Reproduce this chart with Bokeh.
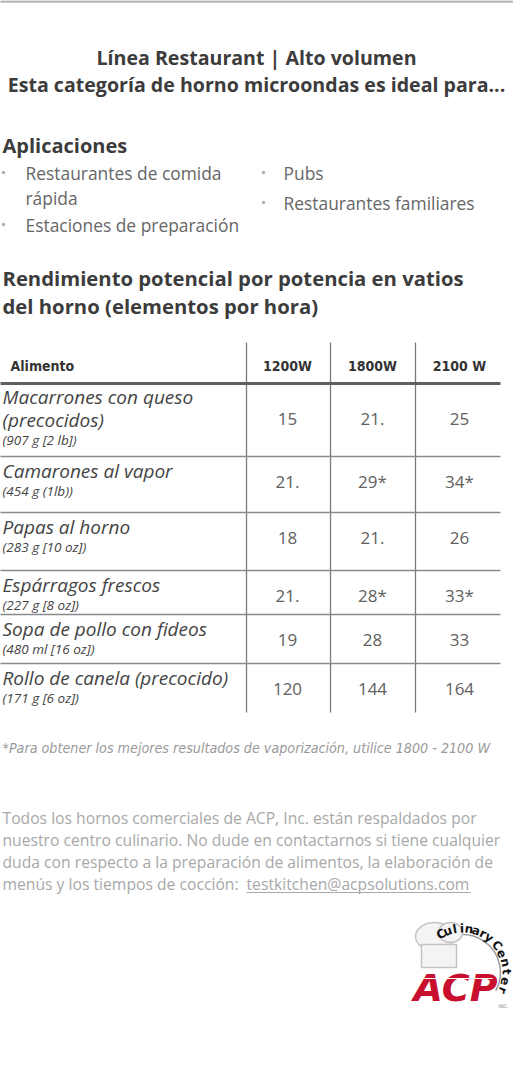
import math
from bokeh.plotting import figure
from bokeh.models import Range1d
from bokeh.core.properties import value
from bokeh.embed import file_html
from bokeh.resources import INLINE

# ---------------- data ----------------
title_lines = ["Línea Restaurant | Alto volumen",
               "Esta categoría de horno microondas es ideal para..."]
apps_heading = "Aplicaciones"
apps_col1 = ["Restaurantes de comida\nrápida", "Estaciones de preparación"]
apps_col2 = ["Pubs", "Restaurantes familiares"]
table_heading = ["Rendimiento potencial por potencia en vatios",
                 "del horno (elementos por hora)"]
col_header = "Alimento"
watts = ["1200W", "1800W", "2100 W"]
foods = ["Macarrones con queso\n(precocidos)", "Camarones al vapor", "Papas al horno",
         "Espárragos frescos", "Sopa de pollo con fideos", "Rollo de canela (precocido)"]
weights = ["(907 g [2 lb])", "(454 g (1lb))", "(283 g [10 oz])",
           "(227 g [8 oz])", "(480 ml [16 oz])", "(171 g [6 oz])"]
v1200 = ["15", "21.", "18", "21.", "19", "120"]
v1800 = ["21.", "29*", "21.", "28*", "28", "144"]
v2100 = ["25", "34*", "26", "33*", "33", "164"]
footnote = "*Para obtener los mejores resultados de vaporización, utilice 1800 - 2100 W"
para_lines = ["Todos los hornos comerciales de ACP, Inc. están respaldados por",
              "nuestro centro culinario. No dude en contactarnos si tiene cualquier",
              "duda con respecto a la preparación de alimentos, la elaboración de",
              "menús y los tiempos de cocción: "]
email = "testkitchen@acpsolutions.com"
logo_top = "Culinary"
logo_side = "Center"
logo_main = "ACP"

# ---------------- figure ----------------
W, H = 513, 1058
p = figure(width=W, height=H, x_range=Range1d(8, 8 + W), y_range=Range1d(8 + H, 8),
           output_backend="svg", toolbar_location=None, min_border=0,
           x_axis_location=None, y_axis_location=None)
p.grid.visible = False
p.outline_line_color = None
p.background_fill_color = "white"
p.border_fill_color = "white"

SANS = "Open Sans"
COND = "DejaVu Sans Condensed"


def txt(x, y, s, size, color, font=SANS, style="normal", align="left", angle=0.0):
    p.text(x=[x], y=[y], text=[s], text_font=value(font), text_font_size=f"{size}px",
           text_font_style=style, text_color=color, text_align=align,
           text_baseline="middle", angle=angle)


def hline(x0, x1, y, w, c):
    p.segment(x0=[x0], y0=[y], x1=[x1], y1=[y], line_width=w, line_color=c)


# top rule
hline(0, 529, 9, 2.5, "#b4b4b8")

# title
for i, s in enumerate(title_lines):
    txt(264, 65 + 27 * i, s, 19.6, "#3c3c3c", style="bold", align="center")

# applications
txt(10, 153, apps_heading, 20, "#3c3c3c", style="bold")
bullet_cols = [(10, 33, apps_col1, [180, 232]), (270, 291, apps_col2, [180, 210])]
for bx, tx, items, ys in bullet_cols:
    for item, y in zip(items, ys):
        p.scatter(x=[bx + 1], y=[y], size=3.5, marker="circle", fill_color="#b0b0b0",
                  line_color=None)
        for k, line in enumerate(item.split("\n")):
            txt(tx, y + 25 * k, line, 17.4, "#666666")

# table heading
for i, s in enumerate(table_heading):
    txt(10, 285 + 28 * i, s, 20.3, "#3c3c3c", style="bold")

# table
col_edges = [254, 338, 423]
col_centers = [295, 380, 467]
table_right = 508
row_edges = [391, 464, 520, 578, 622, 671, 720]
table_top = 350

for x in col_edges:
    p.segment(x0=[x], y0=[table_top], x1=[x], y1=[row_edges[-1]], line_width=1.3,
              line_color="#7a7a7a")
txt(18, 373, col_header, 14, "#333333", font=COND, style="bold")
for c, w in zip(col_centers, watts):
    txt(c, 373, w, 14, "#333333", font=COND, style="bold", align="center")
hline(0, table_right, row_edges[0], 3, "#606060")
for y in row_edges[1:-1]:
    hline(0, table_right, y, 1.5, "#8a8a8a")

for i, (f, wt) in enumerate(zip(foods, weights)):
    top = row_edges[i]
    lines = f.split("\n")
    y0 = top + 13 if len(lines) > 1 else top + 14
    for k, line in enumerate(lines):
        txt(10, y0 + 23 * k, line, 19, "#444444", style="italic")
    wy = y0 + 23 * (len(lines) - 1) + 20
    txt(10, wy, wt, 13.5, "#444444", style="italic")
    vy = (y0 + wy) / 2 + 1
    for c, vals in zip(col_centers, (v1200, v1800, v2100)):
        txt(c, vy, vals[i], 17, "#606060", align="center")

# footnote
txt(10, 755, footnote, 14.2, "#9a9a9a", font=COND, style="italic")

# paragraph
for i, s in enumerate(para_lines):
    txt(10, 825 + 22.3 * i, s, 15.7, "#a8a8a8")
txt(254, 825 + 22.3 * 3, email, 15.7, "#a8a8a8")
hline(254, 478, 900, 1, "#a8a8a8")

# ---------------- logo ----------------
cx, cy = 470, 980
# ring
p.arc(x=[cx], y=[cy], radius=38, start_angle=-0.5, end_angle=2.5, line_color="#9a9a9a",
      line_width=1.5)
# chef hat
p.ellipse(x=[442], y=[944], width=38, height=28, fill_color="#f4f4f4", line_color="#c4c4c4",
          line_width=1.5)
p.ellipse(x=[458], y=[940], width=24, height=20, fill_color="#f4f4f4", line_color="#c4c4c4",
          line_width=1.5)
p.quad(left=[429], right=[464], top=[952], bottom=[975], fill_color="#f4f4f4",
       line_color="#c4c4c4", line_width=1.5)
# arc letters
r = 44
n = len(logo_top)
for k, ch in enumerate(logo_top):
    th = math.radians(119 - k * (66 / (n - 1)))
    txt(cx + r * math.cos(th), cy - r * math.sin(th), ch, 12, "#111111", font="DejaVu Sans",
        style="bold", align="center", angle=th - math.pi / 2)
m = len(logo_side)
for k, ch in enumerate(logo_side):
    th = math.radians(38 - k * (62 / (m - 1)))
    txt(cx + r * math.cos(th), cy - r * math.sin(th), ch, 12, "#111111", font="DejaVu Sans",
        style="bold", align="center", angle=th - math.pi / 2)
txt(463, 995, logo_main, 38, "#c8102e", font="DejaVu Sans", style="bold italic",
    align="center")
hline(432, 500, 986, 1.2, "white")
txt(506, 1013, "INC.", 5, "#888888", font="DejaVu Sans")

open("out.html", "w").write(file_html(p, INLINE))
